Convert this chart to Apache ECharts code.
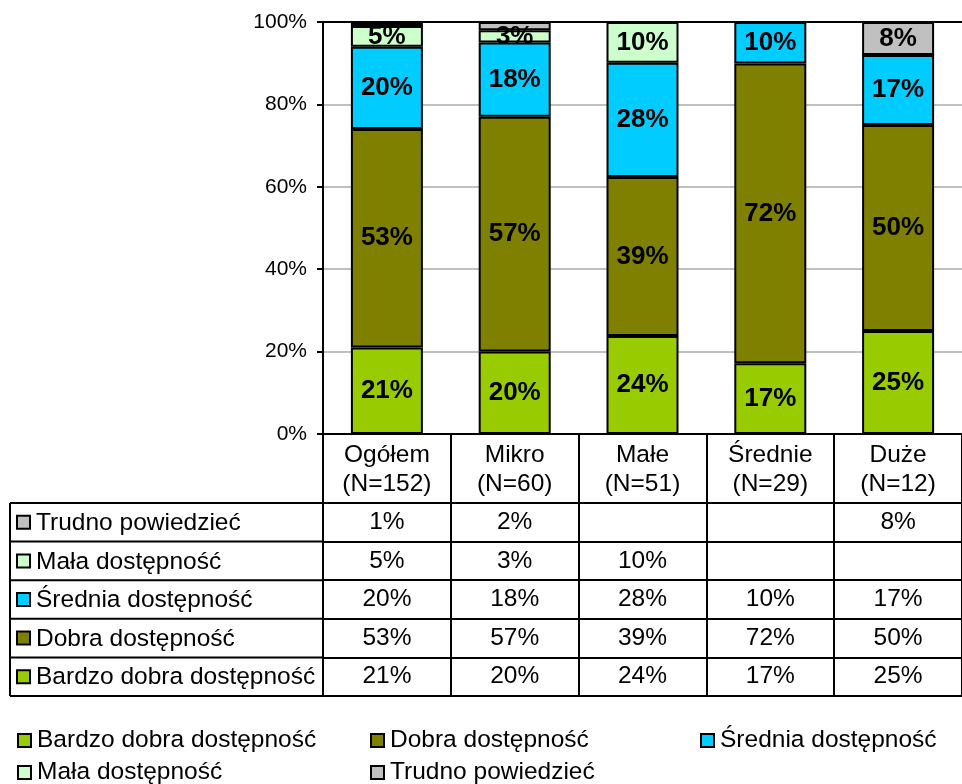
<!DOCTYPE html>
<html>
<head>
<meta charset="utf-8">
<script src="https://cdn.jsdelivr.net/npm/echarts@6/dist/echarts.min.js"></script>
<style>
html,body{margin:0;padding:0;background:#fff;}
#chart{width:962px;height:784px;}
</style>
</head>
<body>
<div id="chart"></div>
<script>
// ---- data ----
const categories = ['Ogółem', 'Mikro', 'Małe', 'Średnie', 'Duże'];
const sampleSizes = ['N=152', 'N=60', 'N=51', 'N=29', 'N=12'];
const seriesNames = ['Bardzo dobra dostępność', 'Dobra dostępność', 'Średnia dostępność', 'Mała dostępność', 'Trudno powiedzieć'];
const bardzoDobra = [21, 20, 24, 17, 25];
const dobra = [53, 57, 39, 72, 50];
const srednia = [20, 18, 28, 10, 17];
const mala = [5, 3, 10, 0, 0];
const trudno = [1, 2, 0, 0, 8];
const seriesColors = ['#99CC00', '#808000', '#00CCFF', '#CCFFCC', '#C0C0C0'];
const yTickStep = 20;

// ---- build ----
const FONT = "'Liberation Sans', Arial, sans-serif";
const seriesValues = [bardzoDobra, dobra, srednia, mala, trudno];
const totals = categories.map((c, i) => seriesValues.reduce((s, arr) => s + arr[i], 0));
const tableOrder = [4, 3, 2, 1, 0]; // top to bottom rows of the data table

const GRID_LEFT = 323, GRID_TOP = 22, GRID_H = 412, GRID_W = 651;
const HEADER_H = 69, ROW_H = 38.6;
const TABLE_LEFT = 10;
const TXT = 24.5;
const tableTop = GRID_TOP + GRID_H + HEADER_H;

const chart = echarts.init(document.getElementById('chart'), null, {renderer: 'canvas'});

const xAxes = [];
xAxes.push({
  type: 'category', gridIndex: 0, position: 'bottom', data: categories,
  axisLine: {show: true, lineStyle: {color: '#000', width: 2}},
  axisTick: {show: true, interval: 0, length: HEADER_H, lineStyle: {color: '#000', width: 2}},
  axisLabel: {
    interval: 0, margin: 7, verticalAlign: 'top', lineHeight: 29,
    fontFamily: FONT, fontSize: TXT, color: '#000',
    formatter: (v, i) => v + '\n(' + sampleSizes[i] + ')'
  },
  splitLine: {show: false}
});
xAxes.push({
  type: 'category', gridIndex: 0, position: 'top', data: categories,
  axisLine: {show: true, lineStyle: {color: '#000', width: 2}},
  axisTick: {show: false}, axisLabel: {show: false}, splitLine: {show: false}
});
tableOrder.forEach((si, r) => {
  const vals = seriesValues[si];
  xAxes.push({
    type: 'category', gridIndex: 0, position: 'bottom', data: categories,
    offset: HEADER_H + r * ROW_H,
    axisLine: {show: true, lineStyle: {color: '#000', width: 2}},
    axisTick: {show: true, interval: 0, length: ROW_H, lineStyle: {color: '#000', width: 2}},
    axisLabel: {
      interval: 0, margin: 0, verticalAlign: 'top', lineHeight: ROW_H,
      fontFamily: FONT, fontSize: TXT, color: '#000',
      formatter: (v, i) => vals[i] ? vals[i] + '%' : ''
    },
    splitLine: {show: false}
  });
});
xAxes.push({
  type: 'category', gridIndex: 0, position: 'bottom', data: categories,
  offset: HEADER_H + 5 * ROW_H,
  axisLine: {show: true, lineStyle: {color: '#000', width: 2}},
  axisTick: {show: false}, axisLabel: {show: false}, splitLine: {show: false}
});

const series = seriesNames.map((name, si) => ({
  name: name, type: 'bar', stack: 'total', xAxisIndex: 0, yAxisIndex: 0,
  barWidth: 72,
  data: seriesValues[si].map((v, i) => v / totals[i] * 100),
  itemStyle: {color: seriesColors[si], borderColor: '#000', borderWidth: 2},
  label: {
    show: true, position: 'inside', fontFamily: FONT, fontWeight: 'bold', fontSize: 26, color: '#000',
    formatter: p => seriesValues[si][p.dataIndex] >= 3 ? seriesValues[si][p.dataIndex] + '%' : ''
  },
  emphasis: {disabled: true}
}));

// row-label column of the data table
const graphics = [];
for (let r = 0; r <= 5; r++) {
  const y = tableTop + r * ROW_H;
  graphics.push({type: 'line', shape: {x1: TABLE_LEFT, y1: y, x2: GRID_LEFT + 1, y2: y}, style: {stroke: '#000', lineWidth: 2}, z: 10});
}
graphics.push({type: 'line', shape: {x1: TABLE_LEFT, y1: tableTop, x2: TABLE_LEFT, y2: tableTop + 5 * ROW_H}, style: {stroke: '#000', lineWidth: 2}, z: 10});
tableOrder.forEach((si, r) => {
  const cy = tableTop + r * ROW_H + ROW_H / 2;
  graphics.push({type: 'rect', shape: {x: 17, y: cy - 6.5, width: 13, height: 13}, style: {fill: seriesColors[si], stroke: '#000', lineWidth: 2}, z: 10});
  graphics.push({type: 'text', x: 36, y: cy + 1, style: {text: seriesNames[si], font: TXT + 'px ' + FONT, fill: '#000', verticalAlign: 'middle', align: 'left'}, z: 10});
});

// legend: 3 columns, 2 rows
const legendSlots = [[17, 728], [370, 728], [700, 728], [17, 760], [370, 760]];
const legends = seriesNames.map((name, si) => ({
  left: legendSlots[si][0], top: legendSlots[si][1],
  itemWidth: 13, itemHeight: 13, icon: 'rect', itemGap: 0, padding: 0,
  data: [name], selectedMode: false,
  textStyle: {fontFamily: FONT, fontSize: TXT, color: '#000', padding: [0, 0, 0, 1]},
  itemStyle: {borderColor: '#000', borderWidth: 2}
}));

chart.setOption({
  animation: false,
  backgroundColor: '#fff',
  grid: {left: GRID_LEFT, top: GRID_TOP, width: GRID_W, height: GRID_H, containLabel: false},
  xAxis: xAxes,
  yAxis: {
    type: 'value', min: 0, max: 100, interval: yTickStep,
    axisLine: {show: true, lineStyle: {color: '#000', width: 2}},
    axisTick: {show: true, length: 6, lineStyle: {color: '#000', width: 2}},
    axisLabel: {fontFamily: FONT, fontSize: 21, color: '#000', margin: 16, formatter: '{value}%'},
    splitLine: {show: true, lineStyle: {color: '#C0C0C0', width: 2}}
  },
  legend: legends,
  graphic: graphics,
  series: series
});
</script>
</body>
</html>
